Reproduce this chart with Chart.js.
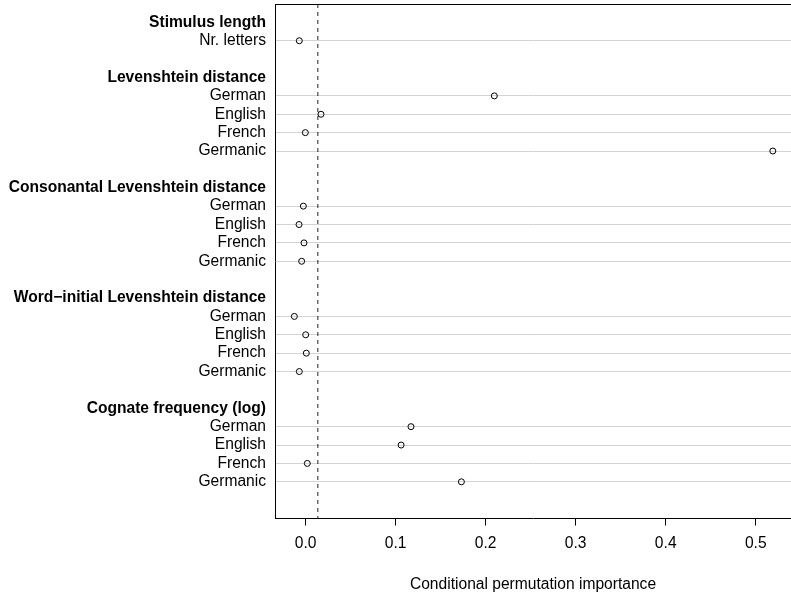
<!DOCTYPE html>
<html>
<head>
<meta charset="utf-8">
<script src="https://cdn.jsdelivr.net/npm/chart.js@4"></script>
<style>
  html, body { margin: 0; padding: 0; background: #fff; }
</style>
</head>
<body>
<canvas id="dotChart" width="791" height="593"></canvas>
<script>
// predictor groups and their levels (top to bottom)
const groupNames = [
    "Stimulus length",
    "Levenshtein distance",
    "Consonantal Levenshtein distance",
    "Word\u2212initial Levenshtein distance",
    "Cognate frequency (log)"
];
const stimulusLabels = ["Nr. letters"];
const languageLabels = ["German", "English", "French", "Germanic"];

// conditional permutation importance per group
const stimulusLength = [-0.0071];
const levenshtein = [0.2096, 0.017, -0.0004, 0.519];
const consonantal = [-0.0026, -0.0074, -0.0019, -0.0045];
const wordInitial = [-0.0126, 0.0, 0.0007, -0.0071];
const cognateFreq = [0.117, 0.106, 0.0018, 0.173];

// dashed reference line
const cutoff = 0.0135;

const xTicks = [0, 0.1, 0.2, 0.3, 0.4, 0.5];

// build row layout: header, items, blank row between groups
const groupItems = [stimulusLabels, languageLabels, languageLabels, languageLabels, languageLabels];
const groupValues = [stimulusLength, levenshtein, consonantal, wordInitial, cognateFreq];

const rowLabels = {};
const headerRows = [];
const itemRows = [];
const points = [];
let row = 1;
groupNames.forEach((name, g) => {
    rowLabels[row] = name;
    headerRows.push(row);
    row++;
    groupItems[g].forEach((lab, i) => {
        rowLabels[row] = lab;
        itemRows.push(row);
        points.push({ x: groupValues[g][i], y: row });
        row++;
    });
    row++; // gap
});
const lastRow = row - 2;      // last item row
const yMax = lastRow + 2;

// top frame line
const framePlugin = {
    id: "frame",
    afterDraw(chart) {
        const { ctx, chartArea } = chart;
        ctx.save();
        ctx.strokeStyle = "#000";
        ctx.lineWidth = 1;
        ctx.beginPath();
        ctx.moveTo(chartArea.left, chartArea.top + 0.5);
        ctx.lineTo(chartArea.right, chartArea.top + 0.5);
        ctx.stroke();
        ctx.restore();
    }
};

const fontFamily = "'Liberation Sans', Arial, Helvetica, sans-serif";
Chart.defaults.font.family = fontFamily;
Chart.defaults.font.size = 15.6;
Chart.defaults.color = "#000";

const ctx = document.getElementById("dotChart").getContext("2d");
new Chart(ctx, {
    type: "scatter",
    data: {
        datasets: [
            {
                label: "importance",
                data: points,
                pointStyle: "circle",
                pointRadius: 3,
                pointBorderWidth: 1,
                borderColor: "#000",
                backgroundColor: "rgba(0,0,0,0)",
                order: 1
            },
            {
                label: "cutoff",
                type: "line",
                data: [{ x: cutoff, y: 0 }, { x: cutoff, y: yMax }],
                borderColor: "#222",
                borderWidth: 1,
                borderDash: [4, 4],
                pointRadius: 0,
                fill: false,
                order: 2
            }
        ]
    },
    options: {
        responsive: false,
        animation: false,
        layout: { autoPadding: false, padding: { top: 4, right: 0, bottom: -1, left: 0 } },
        plugins: {
            legend: { display: false },
            tooltip: { enabled: false }
        },
        scales: {
            x: {
                type: "linear",
                min: -0.0341,
                max: 0.5392,
                afterBuildTicks: s => { s.ticks = xTicks.map(v => ({ value: v })); },
                afterFit: s => { s.paddingLeft = 0; s.paddingRight = 0; },
                ticks: {
                    padding: 9,
                    callback: v => Number(v).toFixed(1)
                },
                grid: {
                    drawOnChartArea: false,
                    drawTicks: true,
                    tickLength: 7,
                    color: "#000"
                },
                border: { display: true, color: "#000", width: 1 },
                title: {
                    display: true,
                    text: "Conditional permutation importance",
                    padding: { top: 13, bottom: 0 }
                }
            },
            y: {
                type: "linear",
                min: 0,
                max: yMax,
                reverse: true,
                afterBuildTicks: s => {
                    s.ticks = Object.keys(rowLabels).map(r => ({ value: Number(r) }));
                },
                afterFit: s => { s.width = 275; s.paddingTop = 0; s.paddingBottom = 0; },
                ticks: {
                    padding: 9,
                    autoSkip: false,
                    callback: v => rowLabels[v] || "",
                    font: c => ({
                        family: fontFamily,
                        size: 15.6,
                        weight: c.tick && headerRows.includes(c.tick.value) ? "bold" : "normal"
                    })
                },
                grid: {
                    drawTicks: false,
                    color: c => (c.tick && itemRows.includes(c.tick.value)) ? "#d3d3d3" : "rgba(0,0,0,0)",
                    lineWidth: 1
                },
                border: { display: true, color: "#000", width: 1 }
            }
        }
    },
    plugins: [framePlugin]
});
</script>
</body>
</html>
